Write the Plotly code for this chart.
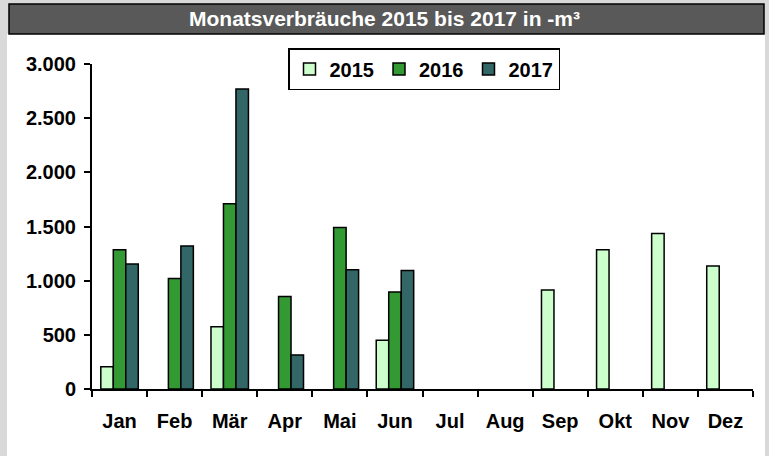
import plotly.graph_objects as go

months = ["Jan", "Feb", "Mär", "Apr", "Mai", "Jun", "Jul", "Aug", "Sep", "Okt", "Nov", "Dez"]
v2015 = [205, None, 575, None, None, 450, None, None, 915, 1285, 1435, 1135]
v2016 = [1285, 1020, 1710, 855, 1490, 895, None, None, None, None, None, None]
v2017 = [1155, 1320, 2770, 315, 1100, 1095, None, None, None, None, None, None]
series_names = ["2015", "2016", "2017"]
colors = ["#ccffcc", "#339933", "#336666"]
y_ticks = [0, 500, 1000, 1500, 2000, 2500, 3000]

W, H = 769, 456
L, R, T, B = 92, 753, 64, 389  # plot area in pixels
pw, ph = R - L, B - T

def px(x):
    return (x - L) / pw

def py(y):
    return (B - y) / ph

fig = go.Figure()
for name, vals, col in zip(series_names, [v2015, v2016, v2017], colors):
    fig.add_trace(go.Bar(
        x=months, y=vals, name=name,
        marker=dict(color=col, line=dict(color="black", width=1.5)),
    ))

font = "Liberation Sans, Arial, sans-serif"
fig.update_layout(
    width=W, height=H,
    margin=dict(l=L, r=W - R, t=T, b=H - B, pad=0, autoexpand=False),
    paper_bgcolor="#d9d9d9",
    plot_bgcolor="rgba(0,0,0,0)",
    barmode="group", bargap=0.32, bargroupgap=0,
    separators=",.",
    font=dict(family=font, color="black"),
    title=dict(
        text="<b>Monatsverbräuche 2015 bis 2017 in -m³</b>",
        x=0.5, xanchor="center", xref="container",
        y=1 - 19 / H, yanchor="middle", yref="container",
        font=dict(family=font, size=21, color="white"),
    ),
    legend=dict(
        orientation="h", x=px(424), xanchor="center", y=py(48), yanchor="top",
        bordercolor="black", borderwidth=1.5, bgcolor="white",
        font=dict(family=font, size=20, color="black", weight="bold"),
        itemwidth=30, tracegroupgap=0,
    ),
    showlegend=True,
    shapes=[
        dict(type="rect", xref="paper", yref="paper", layer="below",
             x0=px(7), x1=px(765), y0=py(456), y1=py(34),
             fillcolor="white", line=dict(width=0)),
        dict(type="rect", xref="paper", yref="paper", layer="below",
             x0=px(9), x1=px(764), y0=py(34), y1=py(4),
             fillcolor="#595959", line=dict(color="black", width=1.5)),
    ],
)

fig.update_xaxes(
    type="category", showline=True, linecolor="black", linewidth=2,
    ticks="outside", tickson="boundaries", ticklen=6, tickwidth=2, tickcolor="black",
    showgrid=False, ticklabelstandoff=13,
    tickfont=dict(family=font, size=20, color="black", weight="bold"),
)
fig.update_yaxes(
    range=[0, 3000], tickvals=y_ticks, tickformat=",d",
    showline=True, linecolor="black", linewidth=2,
    ticks="outside", ticklen=6, tickwidth=2, tickcolor="black",
    showgrid=False, zeroline=False, ticklabelstandoff=4,
    tickfont=dict(family=font, size=20, color="black", weight="bold"),
)

fig.write_html(
    "out.html",
    config={"displayModeBar": False},
    post_script="document.body.style.margin='0';document.body.style.overflow='hidden';",
)
